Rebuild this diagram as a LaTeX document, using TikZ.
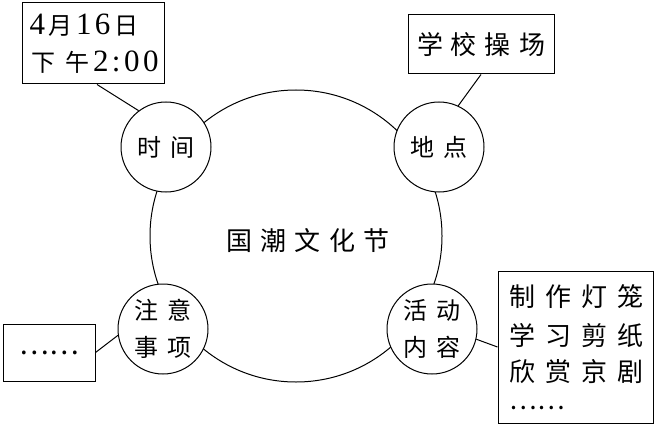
\documentclass[tikz,border=0pt]{standalone}
\usepackage{fontspec}
\setmainfont{Liberation Serif}
\newfontfamily\cjk{Noto Sans CJK SC}
\newcommand\gapT{\hspace{8.5pt}}
\newcommand\gapC{\hspace{9pt}}
\newcommand\gapB{\hspace{10pt}}
\newcommand\gapR{\hspace{8pt}}
\newcommand\gapD{\hspace{3.5pt}}
\newcommand\hanzi[1]{{\cjk\fontsize{24}{30}\selectfont #1}}
\begin{document}
\begin{tikzpicture}[x=1pt,y=-1pt,line width=1pt,
  bubble/.style={circle,draw,fill=white,minimum size=90pt,inner sep=0pt,align=center,
    font=\fontsize{24}{37}\selectfont\cjk},
  infobox/.style={draw,fill=white,inner sep=0pt},
  boxline/.style={inner sep=0pt,anchor=base west},
  link/.style={line width=1pt}]
\useasboundingbox (0,0) rectangle (655,425);
% central circle
\node[circle,draw,minimum size=292pt,inner sep=0pt] (big) at (296,236) {};
\node[font=\fontsize{26}{26}\selectfont\cjk] (title) at (308,241) {国\gapT 潮\gapT 文\gapT 化\gapT 节};
% small circles
\node[bubble] (time) at (166,147) {时\gapC 间};
\node[bubble] (place) at (439,147) {地\gapC 点};
\node[bubble] (note) at (163,329) {注\gapC 意\\事\gapC 项};
\node[bubble] (act) at (432,329) {活\gapC 动\\内\gapC 容};
% boxes
\node[infobox,minimum width=142pt,minimum height=81pt] (tl) at (93,43.5) {};
\node[boxline,font=\fontsize{31}{31}\selectfont] (tl1) at (29,35)
  {4\gapD\hanzi{月}\gapD 1\gapD 6\gapD\hanzi{日}};
\node[boxline,font=\fontsize{31}{31}\selectfont] (tl2) at (31,72)
  {\hanzi{下\gapB 午}\gapD 2\gapD:\gapD 0\gapD 0};
\node[infobox,minimum width=146pt,minimum height=59pt,font=\fontsize{26}{26}\selectfont\cjk] (tr) at (481,44.5)
  {学\gapR 校\gapR 操\gapR 场};
\node[infobox,minimum width=92pt,minimum height=57pt,font=\fontsize{28}{28}\selectfont\cjk] (bl) at (49,352.5)
  {\raisebox{-4pt}{……}};
\node[infobox,minimum width=155pt,minimum height=152pt] (br) at (575.5,347) {};
\begin{scope}[every node/.style={boxline,anchor=west,font=\fontsize{26}{26}\selectfont\cjk}]
\node (br1) at (509,297) {制\gapB 作\gapB 灯\gapB 笼};
\node (br2) at (509,336) {学\gapB 习\gapB 剪\gapB 纸};
\node (br3) at (509,372) {欣\gapB 赏\gapB 京\gapB 剧};
\node (br4) at (509,408) {……};
\end{scope}
% connectors
\coordinate (tlfoot) at (97,84.5);
\draw[link] (tlfoot) -- (time.127);
\draw[link] (tr.south) -- (place.65);
\draw[link] (bl.east) -- (note.188);
\draw[link] (act.-13) -- (br.west);
\end{tikzpicture}
\end{document}
